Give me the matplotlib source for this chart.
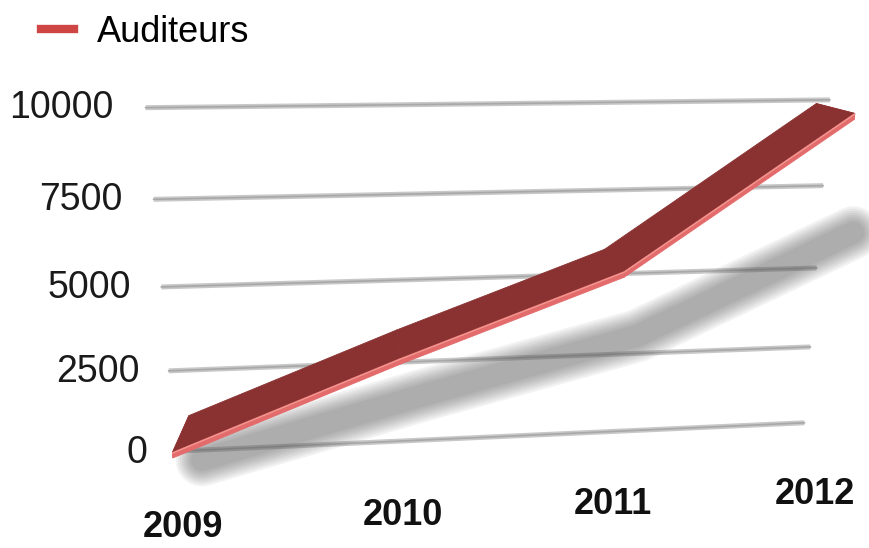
import numpy as np
import matplotlib
matplotlib.use('Agg')
import matplotlib.pyplot as plt
from matplotlib.lines import Line2D
from mpl_toolkits.mplot3d import proj3d
from mpl_toolkits.mplot3d.art3d import Poly3DCollection

# chart data
years = ['2009', '2010', '2011', '2012']
auditeurs = [1100, 3500, 5750, 9900]
y_ticks = [0, 2500, 5000, 7500, 10000]
legend_label = 'Auditeurs'

plt.rcParams['font.family'] = ['Liberation Sans', 'DejaVu Sans']

W, H = 869, 548
fig = plt.figure(figsize=(W / 100, H / 100), dpi=100)

# square 3d axes, its view centre placed at (cx, cy) pixels from the top-left
S = W
cx, cy = 506, 289
ax = fig.add_axes([(cx - 0.5135 * S) / W, (H - cy - 0.5135 * S) / H, S / W, S / H],
                  projection='3d')
ax.set_proj_type('persp', focal_length=0.23)
ax.view_init(elev=15.4, azim=-96.5)
ax.set_xlim(-0.25, 3.25)
ax.set_ylim(0, 1)
ax.set_zlim(0, 10000)
# world box sizes; zoom keeps one world unit at a fixed pixel size
aspect = np.array([1.627, 0.2, 0.762])
ax.set_box_aspect(aspect, zoom=np.linalg.norm(aspect) / (1.8294640721620434 * 25 / 24))
ax.set_axis_off()
ax.computed_zorder = False
M = ax.get_proj()


def label(x, y, z, s, **kw):
    # place a flat text at the projected position of a 3d point
    px, py, _ = proj3d.proj_transform(x, y, z, M)
    ax.text2D(px, py, s, transform=ax.transData, **kw)


xi = np.arange(len(years))
vals = np.array(auditeurs, dtype=float)

# grid lines on the back wall
x_wall = [-0.075, 3.065]
for lev in y_ticks:
    ax.plot(x_wall, [1, 1], [lev, lev], color='#c8c8c8', lw=3.6,
            solid_capstyle='butt', clip_on=False, zorder=1)
    ax.plot(x_wall, [1, 1], [lev, lev], color='#a8a8a8', lw=1.2, clip_on=False, zorder=1)
    label(-0.21, 1, lev, str(lev), ha='right', va='center', fontsize=27, color='#1a1a1a')

# soft drop shadow under the ribbon
sh_x = xi + 0.1
sh_z = vals * 0.68 - 250
for lw in np.linspace(38, 16, 8):
    ax.plot(sh_x, np.full(len(xi), 0.3), sh_z, color='#5a5a5a', alpha=0.08, lw=lw,
            solid_capstyle='round', solid_joinstyle='round', clip_on=False, zorder=2)

# ribbon: top surface, front face and end caps
thick = 160
top, front = [], []
for i in range(len(xi) - 1):
    top.append([(xi[i], 0, vals[i]), (xi[i + 1], 0, vals[i + 1]),
                (xi[i + 1], 1, vals[i + 1]), (xi[i], 1, vals[i])])
    front.append([(xi[i], 0, vals[i]), (xi[i + 1], 0, vals[i + 1]),
                  (xi[i + 1], 0, vals[i + 1] - thick), (xi[i], 0, vals[i] - thick)])
caps = [[(xi[j], 0, vals[j]), (xi[j], 1, vals[j]),
         (xi[j], 1, vals[j] - thick), (xi[j], 0, vals[j] - thick)] for j in (0, -1)]

ax.add_collection3d(Poly3DCollection(caps, facecolor='#c85555', edgecolor='#c85555',
                                     linewidths=0.5, clip_on=False, zorder=3))
ax.add_collection3d(Poly3DCollection(top, facecolor='#8a3232', edgecolor='#8a3232',
                                     linewidths=0.6, clip_on=False, zorder=4))
ax.add_collection3d(Poly3DCollection(front, facecolor='#e36b6b', edgecolor='#e36b6b',
                                     linewidths=0.6, clip_on=False, zorder=5))
ax.plot(xi, np.zeros(len(xi)), vals - 20, color='#f29a92', lw=0.9, clip_on=False, zorder=6)

# year labels in front of the ribbon
for i, yr in enumerate(years):
    label(xi[i], 0.2, -1400, yr, ha='center', va='center', fontsize=26,
          fontweight='bold', color='#111111')

handle = Line2D([], [], color='#cf4543', lw=6)
fig.legend([handle], [legend_label], loc='upper left', bbox_to_anchor=(41 / W, 1 - 15 / H),
           frameon=False, fontsize=26, handlelength=0.9, handletextpad=0.65,
           borderpad=0, borderaxespad=0)

fig.savefig('out.png', dpi=100)
